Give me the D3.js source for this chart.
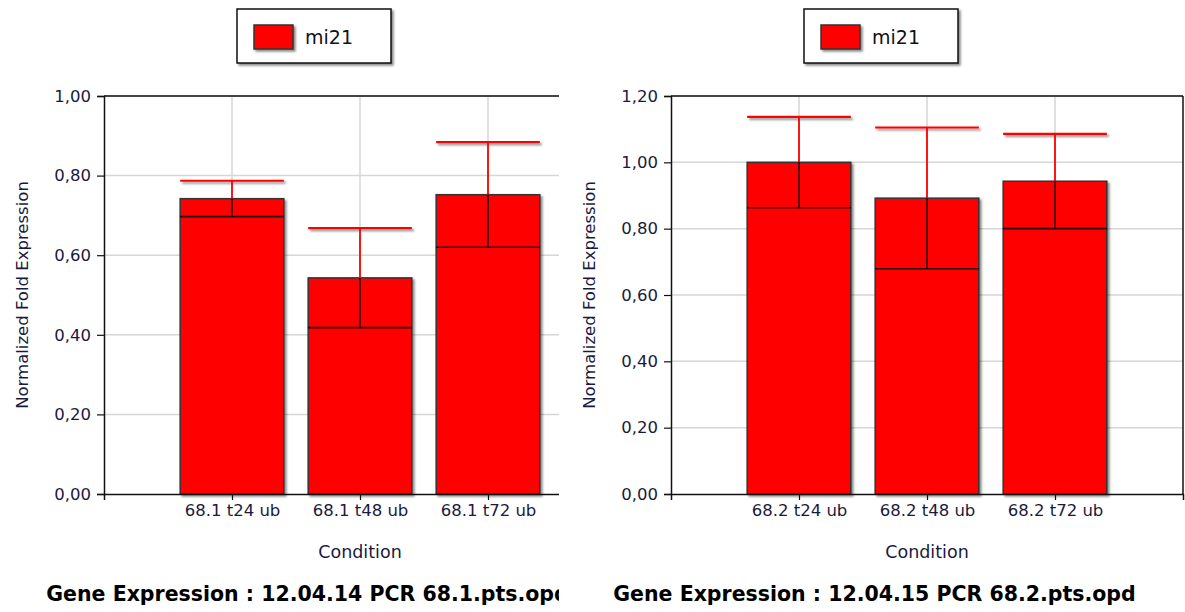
<!DOCTYPE html>
<html>
<head>
<meta charset="utf-8">
<script src="https://cdn.jsdelivr.net/npm/d3@7"></script>
<style>
    body { margin: 0; background: #fff; }
    svg { display: block; }
    text { font-family: "DejaVu Sans", Verdana, sans-serif; }
</style>
</head>
<body>
<svg id="chart" width="1185" height="612"></svg>
<script>
var seriesName = 'mi21';

var leftCategories = ['68.1 t24 ub', '68.1 t48 ub', '68.1 t72 ub'];
var leftValues = [0.742, 0.543, 0.752];
var leftErrors = [0.045, 0.125, 0.132];
var leftTicks = [0, 0.2, 0.4, 0.6, 0.8, 1.0];
var leftTitle = 'Gene Expression : 12.04.14 PCR 68.1.pts.opd';

var rightCategories = ['68.2 t24 ub', '68.2 t48 ub', '68.2 t72 ub'];
var rightValues = [1.000, 0.892, 0.943];
var rightErrors = [0.137, 0.213, 0.143];
var rightTicks = [0, 0.2, 0.4, 0.6, 0.8, 1.0, 1.2];
var rightTitle = 'Gene Expression : 12.04.15 PCR 68.2.pts.opd';

var svg = d3.select('#chart');
var defs = svg.append('defs');

// soft shadow used by bars, legend and error caps (user space so flat lines work too)
var shadow = defs.append('filter').attr('id', 'shadow')
    .attr('filterUnits', 'userSpaceOnUse')
    .attr('x', -300).attr('y', -300).attr('width', 1800).attr('height', 1200);
shadow.append('feDropShadow')
    .attr('dx', 2).attr('dy', 2).attr('stdDeviation', 1.2)
    .attr('flood-color', '#000').attr('flood-opacity', 0.45);

defs.append('clipPath').attr('id', 'clip-left')
    .append('rect').attr('x', 0).attr('y', 0).attr('width', 559).attr('height', 612);

var plot = {left: 104, top: 96, width: 512, height: 398};
var tickColor = '#1a1a40';
var fmt = function(v) { return d3.format('.2f')(v).replace('.', ','); };

function drawPanel(g, categories, values, errors, ticks, title) {
    var x = d3.scaleLinear().domain([0, categories.length + 1]).range([0, plot.width]);
    var y = d3.scaleLinear().domain([0, d3.max(ticks)]).range([plot.height, 0]);
    var barW = (x(1) - x(0)) * 0.81;

    var data = categories.map(function(c, i) {
        return {name: c, pos: i + 1, value: values[i], err: errors[i]};
    });

    // legend
    var lg = g.append('g').attr('transform', 'translate(237,9)');
    lg.append('rect').attr('width', 154).attr('height', 54)
        .attr('fill', '#fff').attr('stroke', '#111').attr('stroke-width', 1.5)
        .attr('filter', 'url(#shadow)');
    lg.append('rect').attr('x', 17).attr('y', 16).attr('width', 39).attr('height', 24)
        .attr('fill', '#ff0000').attr('stroke', '#333').attr('stroke-width', 1.5)
        .attr('filter', 'url(#shadow)');
    lg.append('text').attr('x', 68).attr('y', 35)
        .attr('font-size', 19).attr('fill', '#111').text(seriesName);

    var p = g.append('g').attr('transform', 'translate(' + plot.left + ',' + plot.top + ')');

    // grid
    p.append('g').selectAll('line.h').data(ticks.filter(function(t) { return t > 0; }))
        .enter().append('line')
        .attr('x1', 0).attr('x2', plot.width)
        .attr('y1', function(d) { return y(d); }).attr('y2', function(d) { return y(d); })
        .attr('stroke', '#d6d6d6').attr('stroke-width', 1.5);
    p.append('g').selectAll('line.v').data(data)
        .enter().append('line')
        .attr('x1', function(d) { return x(d.pos); }).attr('x2', function(d) { return x(d.pos); })
        .attr('y1', 0).attr('y2', plot.height)
        .attr('stroke', '#d6d6d6').attr('stroke-width', 1.5);

    // bars
    p.append('g').selectAll('rect').data(data)
        .enter().append('rect')
        .attr('x', function(d) { return x(d.pos) - barW / 2; })
        .attr('y', function(d) { return y(d.value); })
        .attr('width', barW)
        .attr('height', function(d) { return plot.height - y(d.value); })
        .attr('fill', '#ff0000').attr('stroke', '#333').attr('stroke-width', 1.5)
        .attr('filter', 'url(#shadow)');

    // error bars: red above the bar, dark inside it
    var eb = p.append('g').selectAll('g').data(data).enter().append('g');
    eb.append('line')
        .attr('x1', function(d) { return x(d.pos) - barW / 2; })
        .attr('x2', function(d) { return x(d.pos) + barW / 2; })
        .attr('y1', function(d) { return y(d.value + d.err); })
        .attr('y2', function(d) { return y(d.value + d.err); })
        .attr('stroke', '#ff0000').attr('stroke-width', 2.2)
        .attr('filter', 'url(#shadow)');
    eb.append('line')
        .attr('x1', function(d) { return x(d.pos); }).attr('x2', function(d) { return x(d.pos); })
        .attr('y1', function(d) { return y(d.value); })
        .attr('y2', function(d) { return y(d.value + d.err); })
        .attr('stroke', '#ff0000').attr('stroke-width', 1.8);
    eb.append('line')
        .attr('x1', function(d) { return x(d.pos); }).attr('x2', function(d) { return x(d.pos); })
        .attr('y1', function(d) { return y(d.value); })
        .attr('y2', function(d) { return y(d.value - d.err); })
        .attr('stroke', '#2a0000').attr('stroke-width', 1.6);
    eb.append('line')
        .attr('x1', function(d) { return x(d.pos) - barW / 2; })
        .attr('x2', function(d) { return x(d.pos) + barW / 2; })
        .attr('y1', function(d) { return y(d.value - d.err); })
        .attr('y2', function(d) { return y(d.value - d.err); })
        .attr('stroke', '#2a0000').attr('stroke-width', 1.6);

    // frame: top, right, left axis, bottom axis
    p.append('line').attr('x1', 0).attr('x2', plot.width).attr('y1', 0).attr('y2', 0)
        .attr('stroke', '#111').attr('stroke-width', 1.5);
    p.append('line').attr('x1', plot.width).attr('x2', plot.width).attr('y1', 0).attr('y2', plot.height)
        .attr('stroke', '#111').attr('stroke-width', 1.5);

    var yAxis = p.append('g')
        .call(d3.axisLeft(y).tickValues(ticks).tickFormat(fmt).tickSizeOuter(0).tickSize(7).tickPadding(6));
    var xAxis = p.append('g').attr('transform', 'translate(0,' + plot.height + ')')
        .call(d3.axisBottom(x).tickValues(data.map(function(d) { return d.pos; }))
            .tickFormat(function(v) { return categories[v - 1]; })
            .tickSizeOuter(0).tickSize(6).tickPadding(4));
    [yAxis, xAxis].forEach(function(a) {
        a.select('.domain').attr('stroke', '#111').attr('stroke-width', 1.5);
        a.selectAll('.tick line').attr('stroke', '#111').attr('stroke-width', 1.2);
        a.selectAll('.tick text').attr('fill', tickColor)
            .style('font-family', '"DejaVu Sans", Verdana, sans-serif').attr('font-size', 16.5);
    });

    // axis titles
    g.append('text')
        .attr('transform', 'translate(28,' + (plot.top + plot.height / 2) + ') rotate(-90)')
        .attr('text-anchor', 'middle').attr('font-size', 16.5).attr('fill', tickColor)
        .text('Normalized Fold Expression');
    g.append('text')
        .attr('x', plot.left + plot.width / 2).attr('y', 558)
        .attr('text-anchor', 'middle').attr('font-size', 17.5).attr('fill', tickColor)
        .text('Condition');

    g.append('text')
        .attr('x', 307.5).attr('y', 601)
        .attr('text-anchor', 'middle').attr('font-size', 20.5).attr('font-weight', 'bold')
        .attr('fill', '#000')
        .text(title);
}

var leftPanel = svg.append('g').attr('clip-path', 'url(#clip-left)');
drawPanel(leftPanel, leftCategories, leftValues, leftErrors, leftTicks, leftTitle);

var rightPanel = svg.append('g').attr('transform', 'translate(567,0)');
drawPanel(rightPanel, rightCategories, rightValues, rightErrors, rightTicks, rightTitle);
</script>
</body>
</html>
